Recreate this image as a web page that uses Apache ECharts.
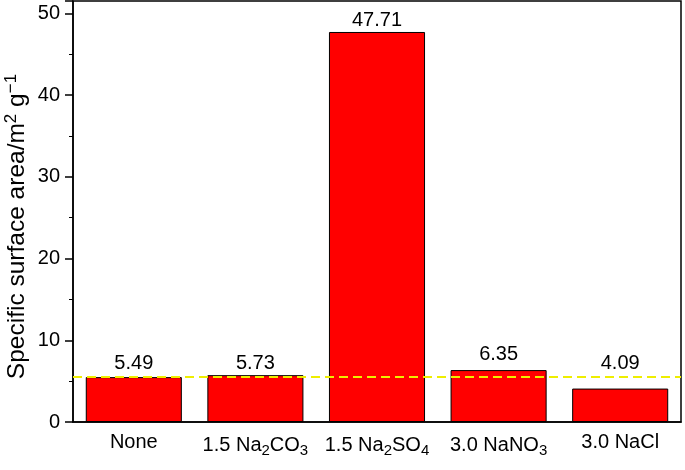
<!DOCTYPE html>
<html><head><meta charset="utf-8">
<script src="https://cdn.jsdelivr.net/npm/echarts@6/dist/echarts.min.js"></script>
<style>html,body{margin:0;padding:0;background:#fff}#c{width:685px;height:470px}</style>
</head><body><div id="c"></div>
<script>
const categories = ['None', '1.5 Na{sub|2}CO{sub|3}', '1.5 Na{sub|2}SO{sub|4}', '3.0 NaNO{sub|3}', '3.0 NaCl'];
const values = [5.49, 5.73, 47.71, 6.35, 4.09];
const valueLabels = ['5.49', '5.73', '47.71', '6.35', '4.09'];
const referenceLine = 5.49;
const yTicks = [0, 10, 20, 30, 40, 50];

const FONT = 'Liberation Sans, Arial, Helvetica, sans-serif';
const labelDistances = [4, 2, 1, 6, 15];
const chart = echarts.init(document.getElementById('c'), null, {renderer: 'canvas'});
chart.setOption({
  animation: false,
  backgroundColor: '#fff',
  grid: {left: 73, right: 4, top: 1, bottom: 48, containLabel: false, outerBoundsMode: 'none',
    show: true, borderColor: '#000', borderWidth: 1.5, backgroundColor: 'transparent'},
  xAxis: {
    type: 'category',
    data: categories,
    axisLine: {lineStyle: {color: '#000', width: 1.5}},
    axisTick: {alignWithLabel: true, length: 8, lineStyle: {color: '#000', width: 1.5}},
    axisLabel: {
      interval: 0, margin: 10, color: '#000', fontFamily: FONT, fontSize: 20,
      rich: {sub: {fontSize: 15, verticalAlign: 'bottom', padding: [11, 0, 0, 0], fontFamily: FONT, color: '#000'}}
    }
  },
  yAxis: {
    type: 'value', min: 0, max: 51.5, interval: 10,
    name: 'Specific surface area/m{sup|2} g{sup|\u22121}',
    nameLocation: 'middle', nameGap: 41, nameMoveOverlap: false,
    nameTextStyle: {color: '#000', fontFamily: FONT, fontSize: 24.5, padding: [0, 30, 0, 0],
      rich: {sup: {fontSize: 17, verticalAlign: 'top', padding: [0, 0, 12, 0], fontFamily: FONT, color: '#000'}}},
    axisLine: {show: true, lineStyle: {color: '#000', width: 1.5}},
    axisTick: {show: true, length: 8, lineStyle: {color: '#000', width: 1.5}},
    minorTick: {show: true, splitNumber: 2, length: 4, lineStyle: {color: '#000', width: 1}},
    splitLine: {show: false},
    axisLabel: {color: '#000', fontFamily: FONT, fontSize: 20, margin: 13, showMaxLabel: false,
      formatter: v => yTicks.includes(v) ? String(v) : ''}
  },
  series: [{
    type: 'bar',
    data: values.map((v, i) => ({value: v, label: {distance: labelDistances[i]}})),
    barCategoryGap: '21%',
    itemStyle: {color: '#ff0000', borderColor: '#000', borderWidth: 1},
    label: {show: true, position: 'top', color: '#000', fontFamily: FONT, fontSize: 20,
      formatter: p => valueLabels[p.dataIndex]},
    markLine: {
      silent: true, symbol: ['none', 'none'], label: {show: false},
      lineStyle: {color: '#eeee00', width: 2, type: [9, 5]},
      data: [{yAxis: referenceLine}]
    }
  }]
});
</script></body></html>
